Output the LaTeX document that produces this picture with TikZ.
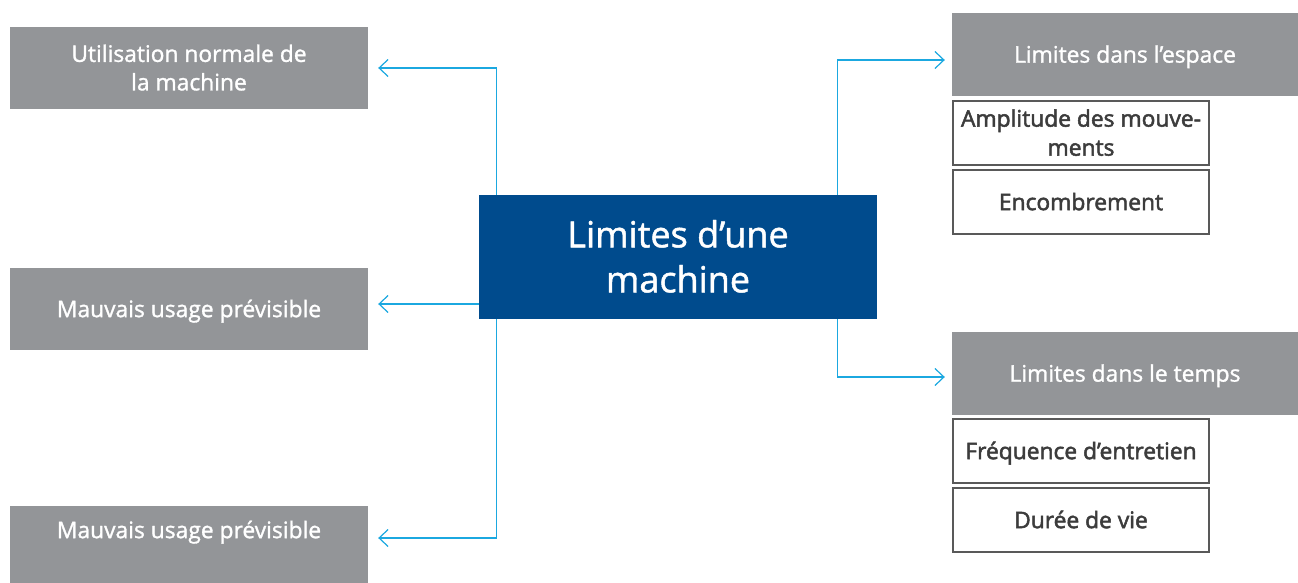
\documentclass[tikz,border=0pt]{standalone}
\usepackage{fontspec}
\setmainfont{Open Sans}
\newfontface\mediumface{Open Sans}[FakeBold=1.3]
\newfontface\semiface{Open Sans}[FakeBold=2.2]
\usetikzlibrary{arrows.meta}
\definecolor{boxgray}{HTML}{939598}
\definecolor{darkblue}{HTML}{004B8D}
\definecolor{linkblue}{HTML}{1BA8E0}
\definecolor{textgray}{HTML}{3C3C3C}
\definecolor{framegray}{HTML}{595959}
\tikzset{
  graybox/.style={fill=boxgray, text=white, inner sep=0pt, align=center,
    minimum height=82pt, text height=20pt, text depth=3.7pt,
    font=\mediumface\fontsize{22.8}{28.5}\selectfont},
  whitebox/.style={draw=framegray, line width=1.2pt, fill=white, text=textgray,
    inner sep=0pt, align=center, minimum width=256pt, minimum height=64pt,
    text height=20pt, text depth=3.7pt,
    font=\semiface\fontsize{22.8}{29}\selectfont},
  mainbox/.style={fill=darkblue, text=white, inner sep=0pt, align=center,
    minimum width=398pt, minimum height=124pt, text height=75pt, text depth=4.3pt,
    font=\mediumface\fontsize{36}{45}\selectfont},
  link/.style={draw=linkblue, line width=1.2pt, -{Straight Barb[length=9pt,width=17pt]}}
}

\begin{document}
\begin{tikzpicture}[x=1pt, y=-1pt]
  \useasboundingbox (0,0) rectangle (1298,583);

  % centre
  \node[mainbox] (centre) at (678,257) {Limites d’une\\machine};

  % left column
  \node[graybox, minimum width=358pt, text height=48.5pt] (util) at (189,68) {Utilisation normale de\\la machine};
  \node[graybox, minimum width=358pt] (mauvaisA) at (189,309) {Mauvais usage prévisible};
  \node[graybox, minimum width=358pt, text depth=37.7pt] (mauvaisB) at (189,547) {Mauvais usage prévisible};

  % right column
  \node[graybox, minimum width=346pt, minimum height=83pt] (espace) at (1125,54.5) {Limites dans l’espace};
  \node[whitebox, text height=49pt] (amplitude) at (1081,133) {Amplitude des mouve-\\ments};
  \node[whitebox] (encombrement) at (1081,202) {Encombrement};
  \node[graybox, minimum width=346pt, minimum height=83pt] (temps) at (1125,373.5) {Limites dans le temps};
  \node[whitebox] (frequence) at (1081,451) {Fréquence d’entretien};
  \node[whitebox] (duree) at (1081,520) {Durée de vie};

  % arrow ends
  \coordinate (mA) at ([yshift=5pt]mauvaisA.east);
  \coordinate (mB) at ([yshift=9pt]mauvaisB.east);
  \coordinate (eS) at ([yshift=-5.5pt]espace.west);
  \coordinate (tP) at ([yshift=-3.5pt]temps.west);

  % connectors
  \draw[link, shorten >=10pt] ([xshift=18pt]centre.north west) |- (util.east);
  \draw[link, shorten >=10pt] (centre.west |- mA) -- (mA);
  \draw[link, shorten >=10pt] ([xshift=18pt]centre.south west) |- (mB);
  \draw[link, shorten >=7pt] ([xshift=-40pt]centre.north east) |- (eS);
  \draw[link, shorten >=7pt] ([xshift=-40pt]centre.south east) |- (tP);
\end{tikzpicture}
\end{document}
